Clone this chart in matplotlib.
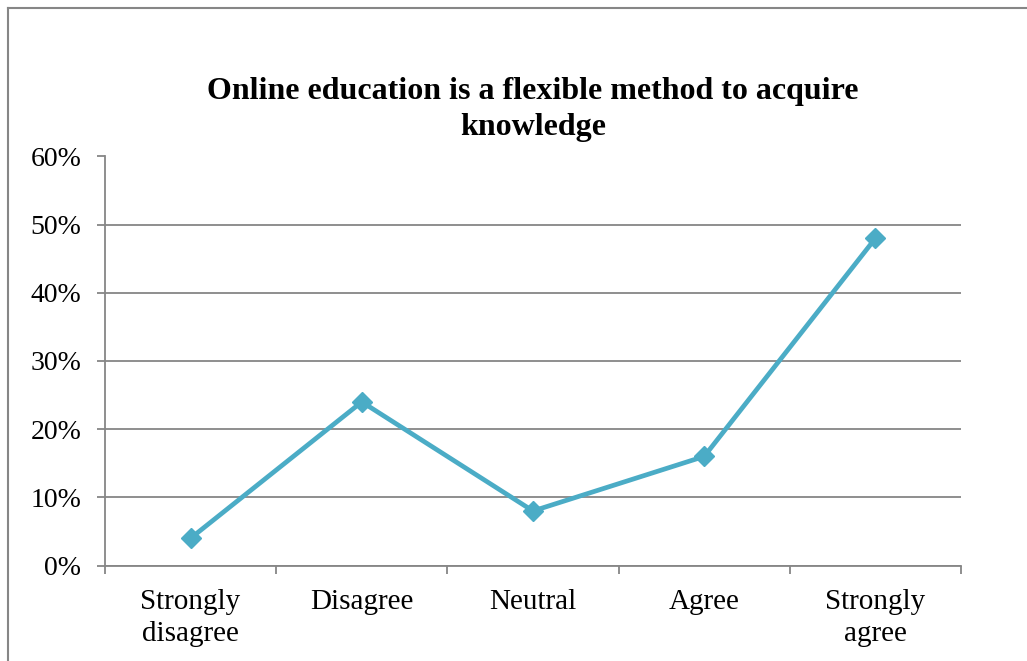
import matplotlib
matplotlib.use("Agg")
import matplotlib.pyplot as plt
from matplotlib.lines import Line2D
from matplotlib.ticker import FuncFormatter, MultipleLocator

categories = ["Strongly\ndisagree", "Disagree", "Neutral", "Agree", "Strongly\nagree"]
values = [0.04, 0.24, 0.08, 0.16, 0.48]
title = "Online education is a flexible method to acquire\nknowledge"

plt.rcParams['font.family'] = ['Liberation Serif', 'DejaVu Serif']

W, H = 1027, 661
fig = plt.figure(figsize=(W/100, H/100), dpi=100)
ax = fig.add_axes([105/W, 1-565.5/H, (961-105)/W, (565.5-156.5)/H])

gray = '#868686'
color = '#4BACC6'
x = list(range(len(categories)))
ax.plot(x, values, color=color, lw=3.4, marker='D', ms=10, mfc=color, mec=color, zorder=3, clip_on=False)

ax.set_xlim(-0.5, len(categories)-0.5)
ax.set_ylim(0, 0.6)
ax.yaxis.set_major_locator(MultipleLocator(0.1))
ax.yaxis.set_major_formatter(FuncFormatter(lambda v, p: f"{round(v*100)}%"))
ax.set_xticks(x)
ax.set_xticklabels(categories, fontsize=21, linespacing=1.3)
ax.set_xticks([i-0.5 for i in range(len(categories)+1)], minor=True)
ax.tick_params(axis='x', which='major', length=0, pad=17)
ax.tick_params(axis='x', which='minor', length=6, color=gray, width=1.3)
ax.tick_params(axis='y', length=6, color=gray, width=1.3, labelsize=20, pad=11)
ax.grid(axis='y', color=gray, lw=1.3)
ax.set_axisbelow(True)
for s in ['top', 'right']:
    ax.spines[s].set_visible(False)
for s in ['left', 'bottom']:
    ax.spines[s].set_color(gray)
    ax.spines[s].set_linewidth(1.3)

fig.text(533/W, 1-109.5/H, title, ha='center', va='center', fontsize=23, fontweight='bold', linespacing=1.32)

# outer frame
fig.add_artist(Line2D([8/W, 8/W], [0, 1-8/H], color=gray, lw=1.5, transform=fig.transFigure))
fig.add_artist(Line2D([8/W, 1], [1-8/H, 1-8/H], color=gray, lw=1.5, transform=fig.transFigure))

fig.savefig("out.png", dpi=100)
